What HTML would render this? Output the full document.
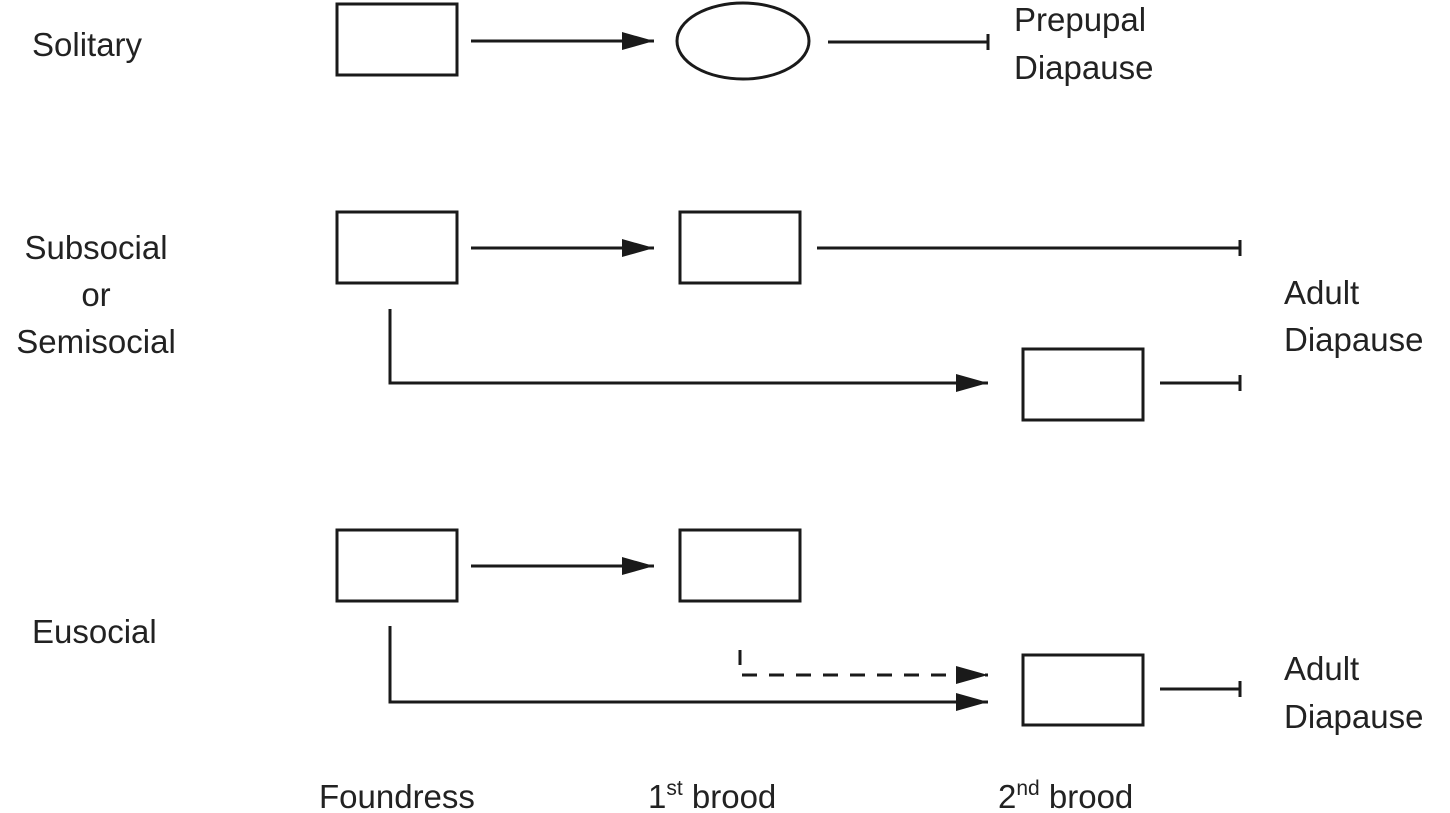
<html><body style="margin:0;background:#fff">
<svg width="1450" height="813" xmlns="http://www.w3.org/2000/svg" style="display:block">
<defs><marker id="a" markerWidth="32" markerHeight="18" refX="32" refY="9" orient="auto" markerUnits="userSpaceOnUse"><path d="M0,0 L32,9 L0,18z" fill="#1a1a1a"/></marker></defs>
<g fill="none" stroke="#1a1a1a" stroke-width="3">
<rect x="337" y="4" width="120" height="71"/>
<ellipse cx="743" cy="41" rx="66" ry="38"/>
<line x1="471" y1="41" x2="654" y2="41" marker-end="url(#a)"/>
<line x1="828" y1="42" x2="988" y2="42"/><line x1="988" y1="34" x2="988" y2="50"/>
<rect x="337" y="212" width="120" height="71"/>
<rect x="680" y="212" width="120" height="71"/>
<line x1="471" y1="248" x2="654" y2="248" marker-end="url(#a)"/>
<line x1="817" y1="248" x2="1240" y2="248"/><line x1="1240" y1="240" x2="1240" y2="256"/>
<polyline points="390,309 390,383 988,383" marker-end="url(#a)"/>
<rect x="1023" y="349" width="120" height="71"/>
<line x1="1160" y1="383" x2="1240" y2="383"/><line x1="1240" y1="375" x2="1240" y2="391"/>
<rect x="337" y="530" width="120" height="71"/>
<rect x="680" y="530" width="120" height="71"/>
<line x1="471" y1="566" x2="654" y2="566" marker-end="url(#a)"/>
<polyline points="740,650 740,675 988,675" stroke-dasharray="15,12" marker-end="url(#a)"/>
<polyline points="390,626 390,702 988,702" marker-end="url(#a)"/>
<rect x="1023" y="655" width="120" height="70"/>
<line x1="1160" y1="689" x2="1240" y2="689"/><line x1="1240" y1="681" x2="1240" y2="697"/>
</g>
<g font-family="Liberation Sans, sans-serif" font-size="33" fill="#222">
<text x="32" y="56">Solitary</text>
<text x="1014" y="31">Prepupal</text><text x="1014" y="79">Diapause</text>
<text x="96" y="259" text-anchor="middle">Subsocial</text>
<text x="96" y="306" text-anchor="middle">or</text>
<text x="96" y="353" text-anchor="middle">Semisocial</text>
<text x="1284" y="304">Adult</text><text x="1284" y="351">Diapause</text>
<text x="32" y="643">Eusocial</text>
<text x="1284" y="680">Adult</text><text x="1284" y="728">Diapause</text>
<text x="319" y="808">Foundress</text>
<text x="648" y="808">1<tspan font-size="21" dy="-13">st</tspan><tspan dy="13"> brood</tspan></text>
<text x="998" y="808">2<tspan font-size="21" dy="-13">nd</tspan><tspan dy="13"> brood</tspan></text>
</g>
</svg>
</body></html>
